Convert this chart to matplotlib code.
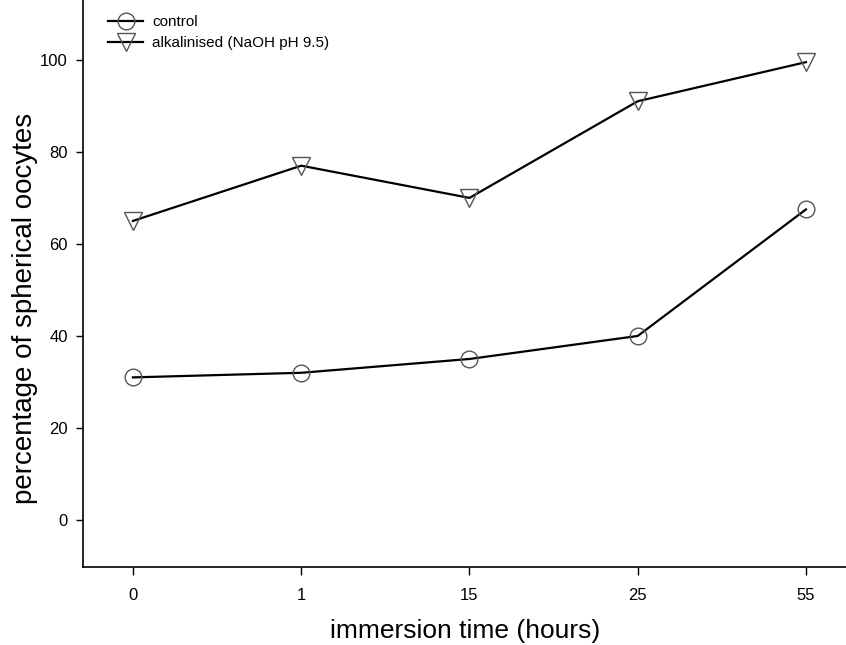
import matplotlib
matplotlib.use("Agg")
import matplotlib.pyplot as plt
import numpy as np

plt.rcParams['font.family'] = ['Liberation Sans Narrow', 'Liberation Sans', 'DejaVu Sans']

# data
times = ["0", "1", "15", "25", "55"]
control = [31, 32, 35, 40, 67.5]
alkalinised = [65, 77, 70, 91, 99.5]

x = np.arange(len(times))

fig = plt.figure(figsize=(8.46, 6.45), dpi=100)
ax = fig.add_axes([83 / 846, 1 - 567 / 645, 1 - 83 / 846, 567 / 645])

ax.plot(x, control, color="black", lw=1.6, marker="o", ms=12,
        mfc="none", mec="#555555", mew=1.0, label="control")
ax.plot(x, alkalinised, color="black", lw=1.6, marker="v", ms=13,
        mfc="none", mec="#555555", mew=1.0, label="alkalinised (NaOH pH 9.5)")

ax.set_xlim(-0.297, 4.238)
ax.set_ylim(-10.2, 113)
ax.set_xticks(x)
ax.set_xticklabels(times)
ax.set_yticks([0, 20, 40, 60, 80, 100])

for s in ["top", "right"]:
    ax.spines[s].set_visible(False)
ax.spines["left"].set_linewidth(1.2)
ax.spines["bottom"].set_linewidth(1.2)
ax.tick_params(direction="out", width=1, labelsize=12)
ax.tick_params(axis="x", length=6, pad=9)
ax.tick_params(axis="y", length=5, pad=6)

# axis titles placed in figure pixels so they stay on the canvas
fig.text(465 / 846, 1 - 631 / 645, "immersion time (hours)", fontsize=19,
         ha="center", va="center", family=["Liberation Sans", "DejaVu Sans"])
fig.text(25 / 846, 1 - 308 / 645, "percentage of spherical oocytes", fontsize=20,
         ha="center", va="center", rotation=90, family=["Liberation Sans", "DejaVu Sans"])

ax.legend(loc="upper left", bbox_to_anchor=(108 / 846, 1 - 15 / 645), bbox_transform=fig.transFigure,
          frameon=False, fontsize=11, handlelength=2.3, handletextpad=0.6,
          labelspacing=0.45, borderaxespad=0, borderpad=0)

fig.savefig("out.png", dpi=100)
